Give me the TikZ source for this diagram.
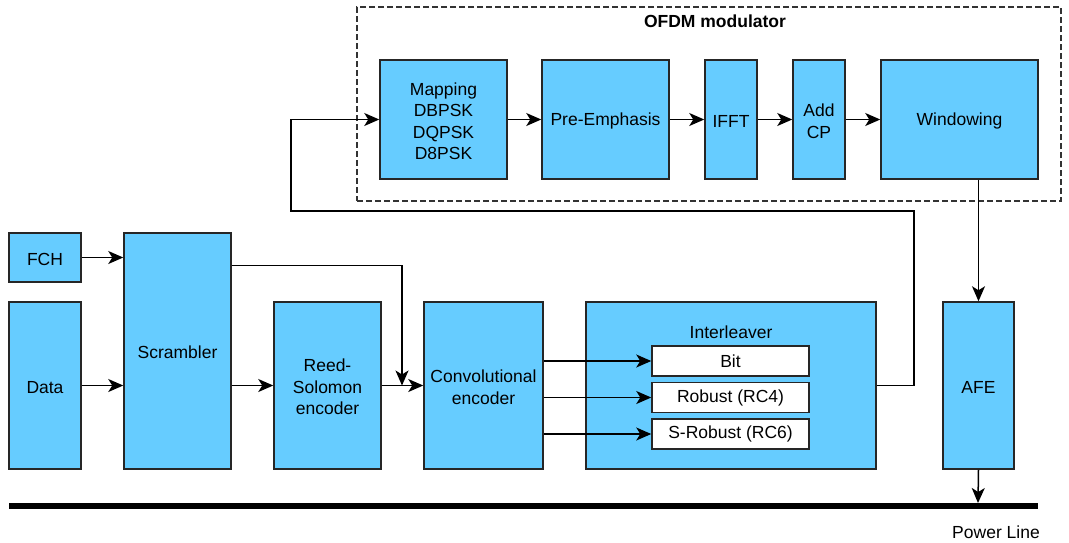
\documentclass[tikz,border=0pt]{standalone}
\usepackage{fontspec}
\setmainfont{Liberation Sans}
\usetikzlibrary{arrows.meta,calc}
\definecolor{boxblue}{HTML}{66CCFF}
\newcommand{\tstrut}{\rule{0pt}{16pt}}
\begin{document}
\begin{tikzpicture}[x=1pt,y=-1pt,
  blk/.style={draw=black!85,line width=1.5pt,fill=boxblue,align=center,inner sep=1pt,
    font=\fontsize{17.5}{21.5}\selectfont},
  sub/.style={draw=black!85,line width=1.5pt,fill=white,align=center,inner sep=1pt,
    minimum width=157pt,minimum height=30pt,font=\fontsize{17.5}{21}\selectfont},
  conn/.style={line width=1.5pt,-{Stealth[length=15pt,width=13pt,inset=4pt]}},
  line/.style={line width=1.5pt}]
\useasboundingbox (0,0) rectangle (1069,542);
% OFDM modulator frame
\node[draw=black!80,line width=1.2pt,dash pattern=on 6pt off 3pt,minimum width=704pt,minimum height=194pt,inner sep=0pt] (ofdm) at (709,104) {};
\node[font=\bfseries\fontsize{17.5}{20}\selectfont] (ofdmt) at (715,21) {OFDM modulator};
% top chain
\node[blk,minimum width=127pt,minimum height=119pt] (map) at (443.5,119.5) {\tstrut Mapping\\DBPSK\\DQPSK\\D8PSK};
\node[blk,minimum width=127pt,minimum height=119pt] (pre) at (605.5,119.5) {\tstrut Pre-Emphasis};
\node[blk,minimum width=52pt,minimum height=119pt] (ifft) at (731,119.5) {\tstrut IFFT};
\node[blk,minimum width=52pt,minimum height=119pt] (cp) at (819,119.5) {\tstrut Add\\CP};
\node[blk,minimum width=157pt,minimum height=119pt] (win) at (959.5,119.5) {\tstrut Windowing};
% bottom chain
\node[blk,minimum width=72pt,minimum height=49pt] (fch) at (45,257.5) {\tstrut FCH};
\node[blk,minimum width=72pt,minimum height=167pt] (data) at (45,385.5) {\tstrut Data};
\node[blk,minimum width=107pt,minimum height=236pt] (scr) at (177.5,351) {\tstrut Scrambler};
\node[blk,minimum width=107pt,minimum height=167pt] (rs) at (327.5,385.5) {\tstrut Reed-\\Solomon\\encoder};
\node[blk,minimum width=119pt,minimum height=167pt] (conv) at (483.5,385.5) {\tstrut Convolutional\\encoder};
\node[blk,minimum width=290pt,minimum height=167pt] (intl) at (731,385.5) {};
\node[font=\fontsize{17.5}{20}\selectfont] (intlt) at (731,332) {Interleaver};
\node[sub] (bit) at (730.5,361) {Bit};
\node[sub] (rob) at (730.5,397.5) {Robust (RC4)};
\node[sub] (srob) at (730.5,434) {S-Robust (RC6)};
\node[blk,minimum width=71pt,minimum height=167pt] (afe) at (978.5,385.5) {\tstrut AFE};
% power line
\coordinate (pl1) at (9,506);
\coordinate (pl2) at (1038,506);
\draw[line width=6pt] (pl1) -- (pl2);
\coordinate (plt) at (978,503);
\node[font=\fontsize{17.5}{20}\selectfont] (plabel) at (996,532) {Power Line};
% connectors
\draw[conn] (fch.east) -- (fch.east -| scr.west);
\draw[conn] (data.east) -- (data.east -| scr.west);
\draw[conn] (scr.east |- rs.west) -- (rs.west);
\draw[conn] (rs.east) -- (conv.west);
\coordinate (j) at (402,385.5);
\draw[conn] ($(scr.north east)+(0,33)$) -| (j);
\draw[conn] (conv.east |- bit.west) -- (bit.west);
\draw[conn] (conv.east |- rob.west) -- (rob.west);
\draw[conn] (conv.east |- srob.west) -- (srob.west);
\coordinate (fb1) at (914,211);
\coordinate (fb2) at (291,211);
\draw[conn] (intl.east) -| (fb1) -- (fb2) |- (map.west);
\draw[conn] (map.east) -- (pre.west);
\draw[conn] (pre.east) -- (ifft.west);
\draw[conn] (ifft.east) -- (cp.west);
\draw[conn] (cp.east) -- (win.west);
\draw[conn] (afe.north |- win.south) -- (afe.north);
\draw[conn] (afe.south) -- (plt);
\end{tikzpicture}
\end{document}
